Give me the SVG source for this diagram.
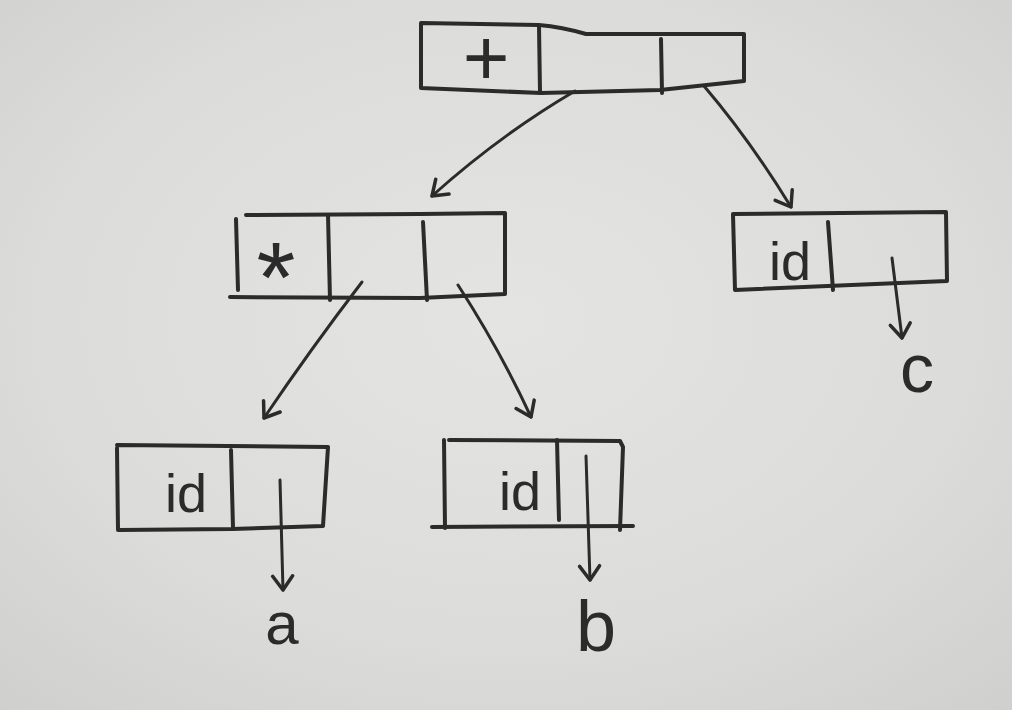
<svg xmlns="http://www.w3.org/2000/svg" width="1012" height="710" viewBox="0 0 1012 710">
<defs>
<radialGradient id="paper" cx="0.5" cy="0.45" r="0.75">
<stop offset="0" stop-color="#e4e4e2"/>
<stop offset="0.6" stop-color="#dcdcda"/>
<stop offset="1" stop-color="#cfcfcd"/>
</radialGradient>
<marker id="vhead" markerUnits="userSpaceOnUse" markerWidth="40" markerHeight="40" viewBox="-20 -20 40 40" refX="0" refY="0" orient="auto">
<path d="M-14,-10 L0,0 L-14,10" fill="none" stroke="#2b2b2b" stroke-width="3.5" stroke-linecap="round" stroke-linejoin="round"/>
</marker>
<style>
.ink{fill:none;stroke:#2b2b2b;stroke-width:4;stroke-linecap:round;stroke-linejoin:round}
.arr{fill:none;stroke:#2b2b2b;stroke-width:3;stroke-linecap:round;marker-end:url(#vhead)}
.hand{font-family:"Liberation Sans","DejaVu Sans",sans-serif;fill:#2b2b2b}
</style>
</defs>
<rect width="1012" height="710" fill="url(#paper)"/>

<g id="node-plus">
<path class="ink" d="M421,23 L539,25 Q562,27 586,34 L744,34 L744,81 L660,90 L541,93 L421,88 Z"/>
<path class="ink" d="M539,26 L540,92"/>
<path class="ink" d="M661,39 L662,93"/>
<text class="hand" x="486" y="85" font-size="80" text-anchor="middle">+</text>
</g>

<g id="node-times">
<path class="ink" d="M236,219 L238,290"/>
<path class="ink" d="M246,215 L420,214 L505,213 L505,294 L420,298 L230,297"/>
<path class="ink" d="M328,215 L330,300"/>
<path class="ink" d="M423,222 L427,300"/>
<text class="hand" x="276" y="312" font-size="100" text-anchor="middle">*</text>
</g>

<g id="node-id-c">
<path class="ink" d="M733,214 L946,212 L947,281 L735,290 Z"/>
<path class="ink" d="M828,222 L833,290"/>
<text class="hand" x="790" y="280" font-size="54" text-anchor="middle">id</text>
</g>

<g id="node-id-a">
<path class="ink" d="M117,448 L118,530 L232,529 L323,526 L328,447 L117,445"/>
<path class="ink" d="M231,450 L233,528"/>
<text class="hand" x="186" y="512" font-size="54" text-anchor="middle">id</text>
</g>

<g id="node-id-b">
<path class="ink" d="M444,440 L445,528"/>
<path class="ink" d="M449,440 L620,441 L623,447 L620,530"/>
<path class="ink" d="M432,527 L633,526"/>
<path class="ink" d="M557,440 L559,520"/>
<text class="hand" x="520" y="510" font-size="54" text-anchor="middle">id</text>
</g>

<g id="leaf-c"><text class="hand" x="917" y="392" font-size="68" text-anchor="middle">c</text></g>
<g id="leaf-a"><text class="hand" x="282" y="644" font-size="60" text-anchor="middle">a</text></g>
<g id="leaf-b"><text class="hand" x="596" y="651" font-size="72" text-anchor="middle">b</text></g>

<g id="connectors">
<path class="arr" d="M575,91 Q500,135 432,196"/>
<path class="arr" d="M704,86 Q750,140 791,207"/>
<path class="arr" d="M362,282 Q310,350 264,418"/>
<path class="arr" d="M458,285 Q500,350 531,417"/>
<path class="arr" d="M892,258 L902,338"/>
<path class="arr" d="M280,480 L283,590"/>
<path class="arr" d="M586,456 L590,580"/>
</g>
</svg>
